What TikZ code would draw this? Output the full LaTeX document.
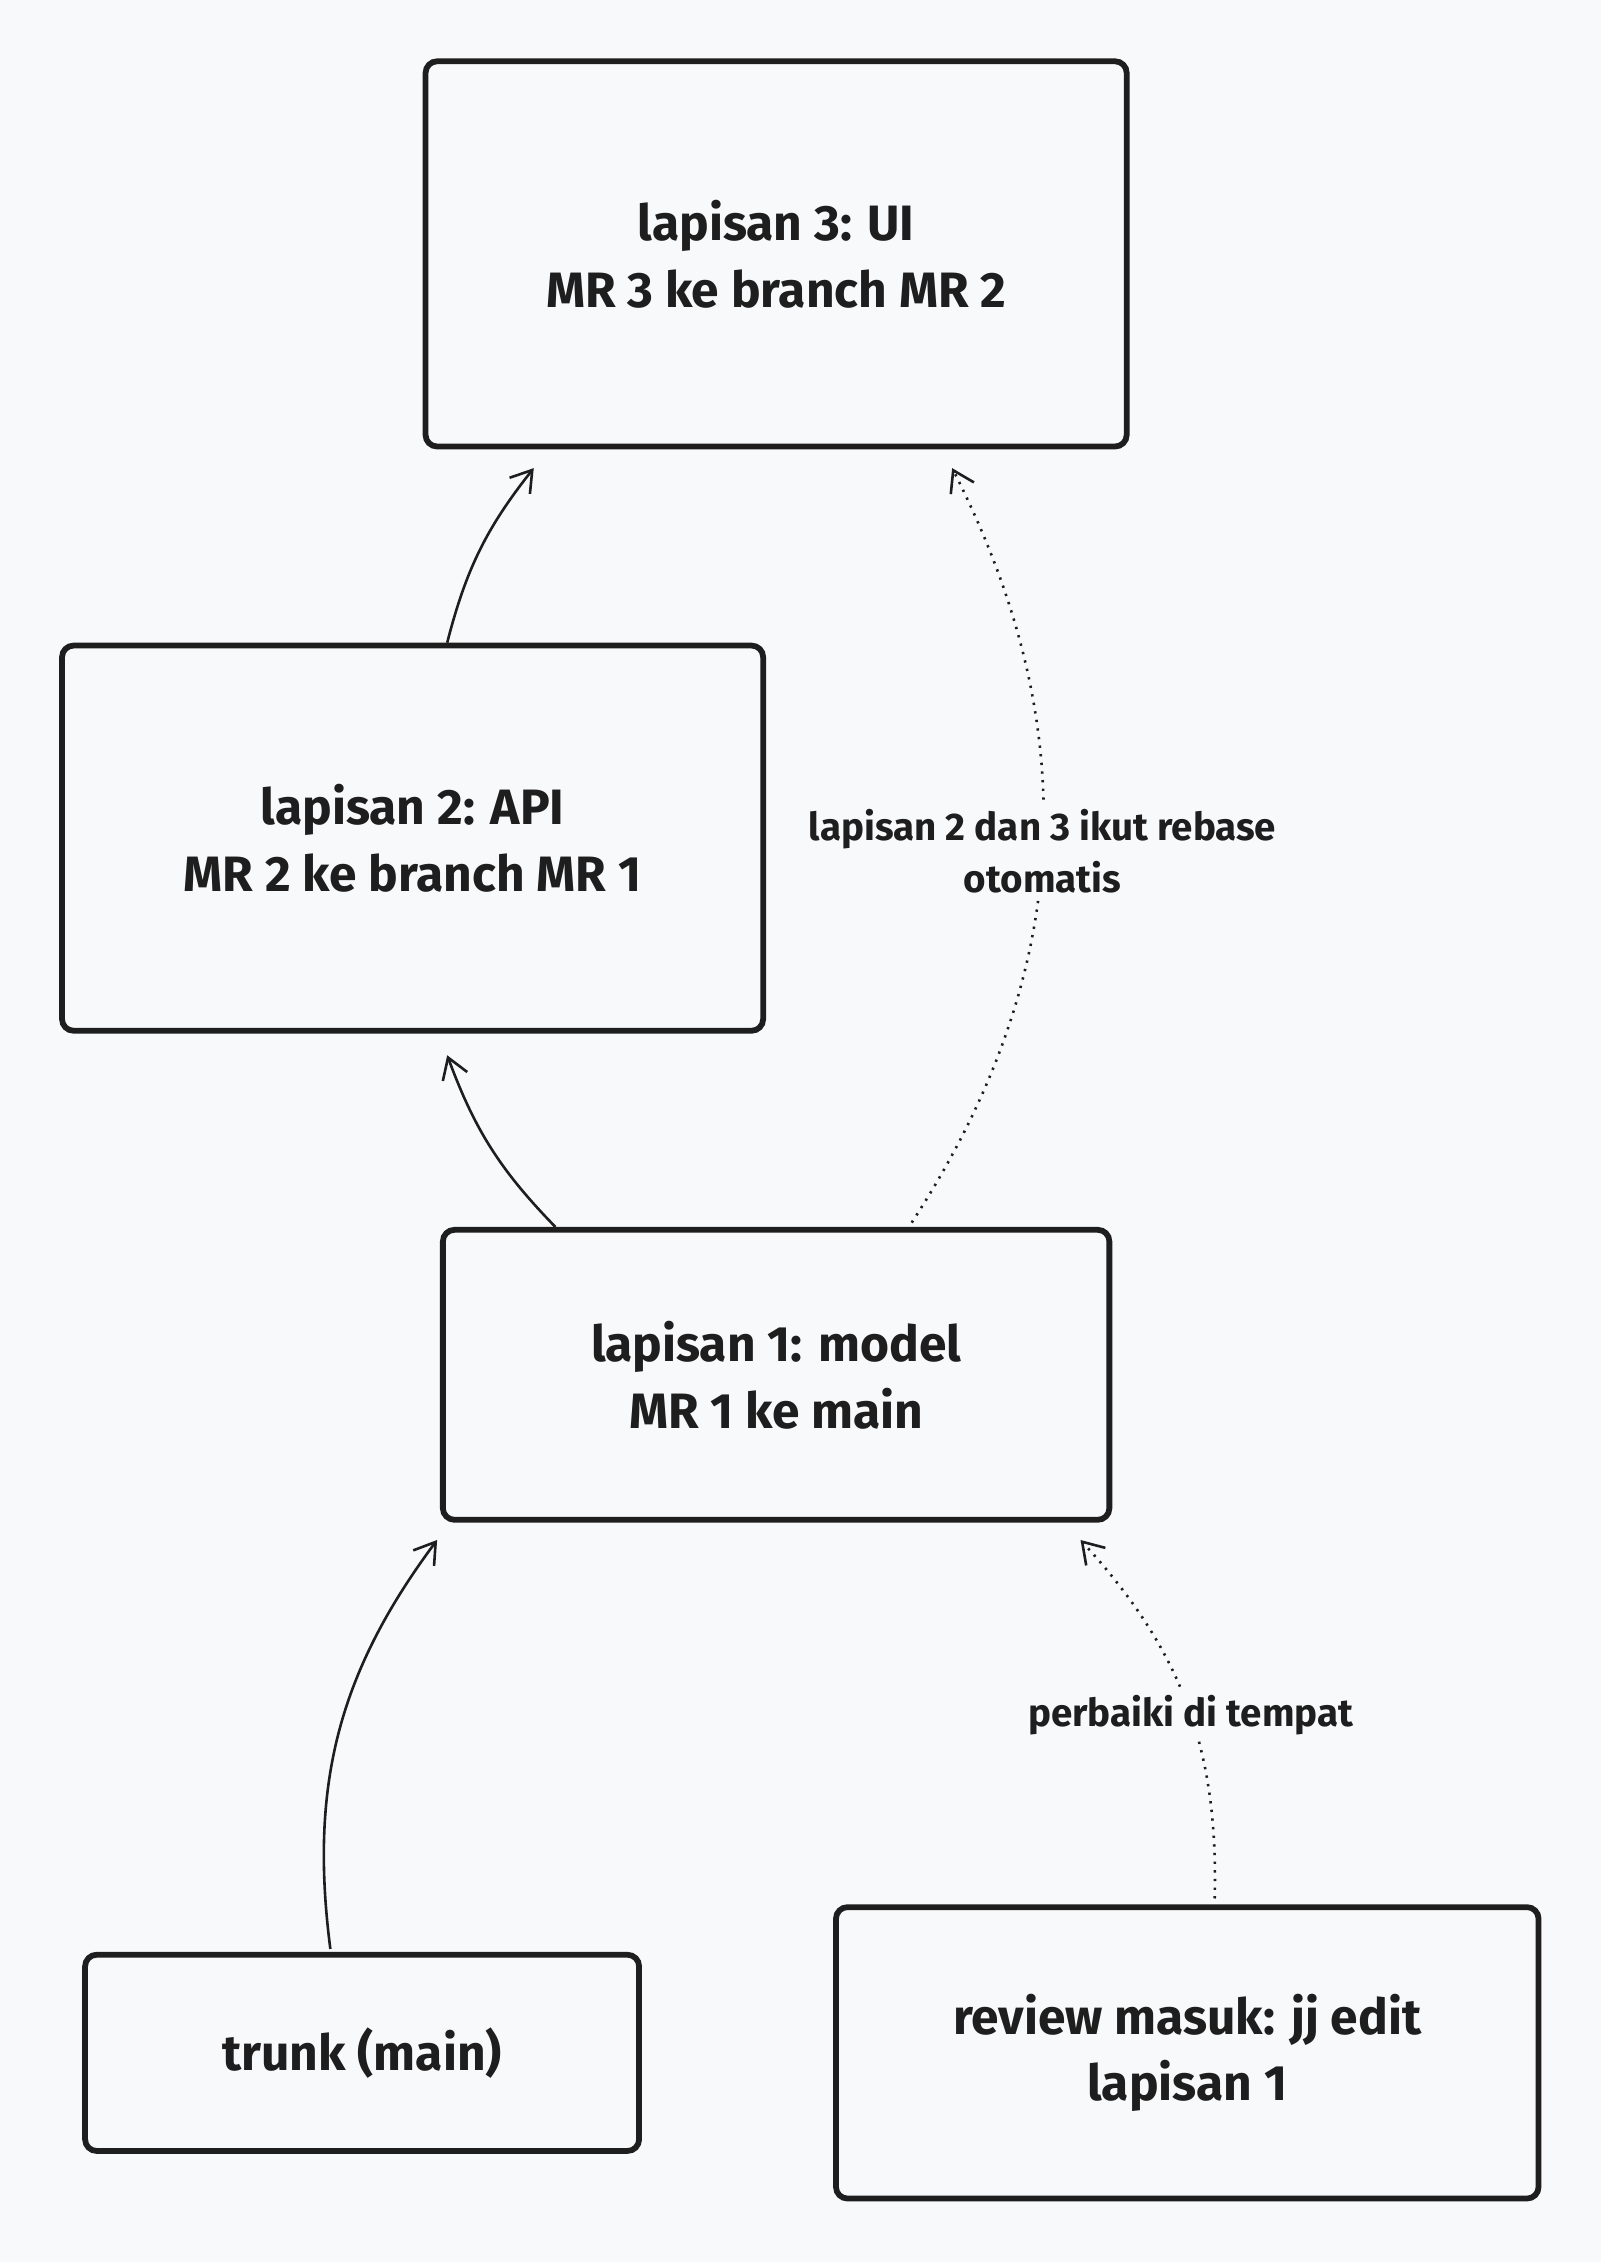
\documentclass[tikz,border=0pt]{standalone}
\usepackage{fontspec}
\setmainfont{Fira Sans}
\usetikzlibrary{arrows.meta,calc}
\definecolor{bg}{HTML}{F8F9FB}
\definecolor{ink}{HTML}{1E1E1E}
\begin{document}
\begin{tikzpicture}[x=0.05cm,y=-0.05cm,
  box/.style={draw=ink,line width=0.2cm,rounded corners=0.4cm,align=center,
    font=\fontsize{49}{66}\selectfont\bfseries,text=ink},
  arr/.style={draw=ink,line width=0.09cm,-{Straight Barb[length=0.7cm,width=0.9cm]}},
  dot/.style={arr,dash pattern=on 0.08cm off 0.22cm},
  lab/.style={fill=bg,font=\fontsize{38}{52}\selectfont\bfseries,text=ink,align=center,inner sep=4pt}]
\fill[bg] (0,0) rectangle (1110,1568);
\useasboundingbox (0,0) rectangle (1110,1568);
\node[box,minimum width=486*0.05cm,minimum height=267*0.05cm] (b3) at (538,176) {lapisan 3: UI\\MR 3 ke branch MR 2};
\node[box,minimum width=486*0.05cm,minimum height=267*0.05cm] (b2) at (286,581) {lapisan 2: API\\MR 2 ke branch MR 1};
\node[box,minimum width=462*0.05cm,minimum height=201*0.05cm] (b1) at (538,953) {lapisan 1: model\\MR 1 ke main};
\node[box,minimum width=384*0.05cm,minimum height=136*0.05cm] (tr) at (251,1423) {trunk (main)};
\node[box,minimum width=487*0.05cm,minimum height=202*0.05cm] (rv) at (823,1423) {review masuk: jj edit\\lapisan 1};
\draw[arr] ($(b1.north)+(-153,0)$) to[bend left=12] ($(b2.south)+(24,15)$);
\draw[arr] ($(b2.north)+(24,0)$) to[bend left=12] ($(b3.south)+(-168,13)$);
\draw[dot] ($(b1.north)+(94,-3)$) to[bend right=30] node[lab,pos=0.5]{lapisan 2 dan 3 ikut rebase\\otomatis} ($(b3.south)+(122,13)$);
\draw[arr] ($(tr.north)+(-22,-2)$) to[bend left=22] ($(b1.south west)+(-2,12)$);
\draw[dot] ($(rv.north)+(19,-4)$) to[bend right=22] node[lab,pos=0.47]{perbaiki di tempat} ($(b1.south east)+(-22,12)$);
\end{tikzpicture}
\end{document}
